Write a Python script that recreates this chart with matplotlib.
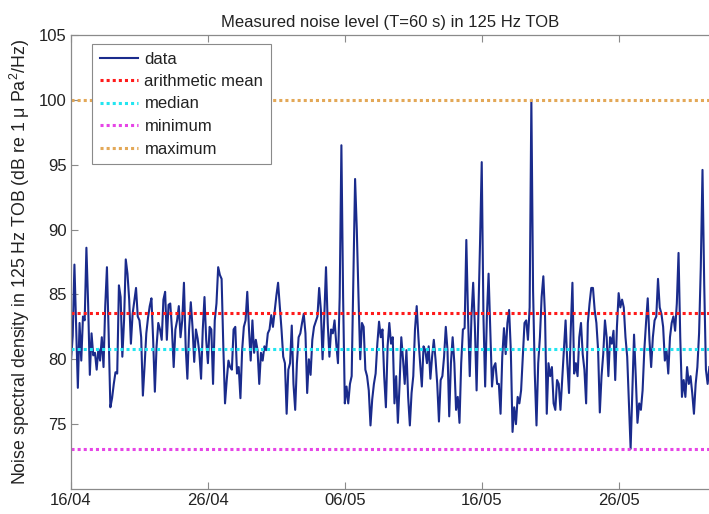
import matplotlib
matplotlib.use("Agg")
import matplotlib.pyplot as plt
import matplotlib.dates as mdates
import pandas as pd

plt.rcParams["font.family"] = ["Liberation Sans", "DejaVu Sans"]
plt.rcParams["mathtext.fontset"] = "custom"
plt.rcParams["mathtext.rm"] = "Liberation Sans"
plt.rcParams["mathtext.it"] = "Liberation Sans:italic"

# 3-hourly noise level in the 125 Hz third-octave band
start = "2013-04-16"
step = "3h"
noise_db = [
    # 16/04 - 23/04
    79.9, 81.8, 87.3, 82.5, 77.8, 82.8, 79.9, 83.3, 83.0, 88.6,
    84.3, 78.8, 82.0, 80.3, 80.5, 79.2, 80.8, 79.9, 81.7, 79.4,
    84.1, 87.1, 82.0, 76.3, 77.0, 78.1, 79.0, 78.9, 85.7, 84.8,
    80.2, 83.0, 87.7, 86.6, 84.6, 81.2, 83.5, 84.5, 85.5, 83.3,
    83.0, 81.7, 77.2, 79.5, 82.0, 83.2, 84.1, 84.7, 81.5, 77.5,
    81.0, 82.8, 82.3, 81.5, 84.6, 85.2, 81.5, 84.2, 84.3, 82.3,
    79.4,
    # 23/04 - 01/05
    82.3, 83.0, 84.1, 81.7, 83.0, 85.9, 81.0, 78.5, 82.3, 84.4,
    82.5, 79.8, 82.3, 81.6, 80.5, 78.5, 82.3, 84.8, 81.5, 79.7,
    82.5, 82.3, 78.1, 83.0, 84.3, 87.1, 86.5, 86.2, 81.0, 76.6,
    78.4, 79.9, 79.4, 79.2, 82.3, 82.5, 78.9, 79.4, 77.0, 80.7,
    82.5, 83.0, 85.2, 82.3, 79.9, 83.0, 80.5, 81.5, 80.7, 78.1,
    80.5, 79.9, 81.0, 80.7, 82.0, 82.3, 83.4, 82.5, 83.7, 84.9,
    85.9, 84.1,
    # 01/05 - 09/05
    82.3, 80.2, 79.7, 75.8, 79.2, 79.7, 82.6, 78.1, 76.1, 79.7,
    81.7, 82.0, 82.8, 83.5, 82.0, 77.4, 80.0, 78.8, 81.5, 82.5,
    82.9, 83.3, 85.5, 83.8, 80.0, 83.3, 87.1, 82.8, 80.2, 82.3,
    82.0, 83.0, 81.2, 79.7, 84.8, 96.5, 84.8, 76.6, 77.9, 76.6,
    78.1, 78.7, 86.1, 93.9, 90.0, 84.8, 80.0, 82.8, 82.5, 79.2,
    78.7, 77.6, 74.9, 76.9, 78.1, 78.9, 81.2, 82.9, 81.7, 82.3,
    78.7, 76.3, 81.0, 82.8, 81.2,
    # 09/05 - 17/05
    81.7, 76.6, 78.7, 75.1, 78.1, 81.7, 80.0, 78.1, 80.7, 77.1,
    74.9, 77.4, 78.7, 82.3, 84.1, 81.7, 79.7, 77.9, 81.0, 80.7,
    79.7, 81.0, 78.5, 80.2, 81.5, 80.0, 78.1, 75.2, 78.4, 78.7,
    80.2, 82.5, 80.7, 75.6, 79.7, 81.7, 79.7, 76.1, 77.1, 75.1,
    79.7, 82.3, 82.4, 89.2, 83.3, 78.7, 83.3, 85.9, 82.5, 77.6,
    83.3, 88.9, 95.2, 83.3, 77.9, 83.3, 86.6, 82.3, 77.9, 79.4,
    79.7, 78.1,
    # 17/05 - 24/05
    78.1, 75.8, 80.2, 82.4, 80.4, 82.8, 83.8, 80.7, 74.4, 76.3,
    75.0, 77.1, 76.6, 77.6, 80.2, 82.8, 83.0, 81.5, 84.0, 100.0,
    85.3, 78.9, 74.9, 79.7, 81.7, 84.8, 86.4, 83.3, 75.8, 79.7,
    78.7, 79.4, 76.6, 76.1, 78.4, 78.1, 76.1, 78.4, 80.7, 83.0,
    79.7, 77.4, 82.2, 85.9, 78.9, 79.7, 78.7, 81.7, 82.8, 80.4,
    79.2, 76.6, 82.8, 84.3, 85.5, 85.5, 83.8, 82.8, 80.7, 75.9,
    # 24/05 - 01/06
    78.7, 80.4, 83.0, 81.7, 78.7, 81.7, 81.2, 82.2, 78.4, 82.5,
    85.1, 84.0, 84.6, 84.0, 81.7, 80.2, 76.6, 73.1, 77.6, 81.9,
    78.7, 75.1, 76.6, 76.1, 77.6, 80.7, 82.8, 84.7, 81.5, 79.4,
    81.7, 83.0, 83.3, 86.2, 84.0, 83.5, 82.5, 79.9, 80.7, 78.9,
    81.7, 82.8, 83.3, 82.2, 84.3, 88.2, 81.7, 77.1, 78.4, 77.1,
    79.4, 78.1, 78.7, 77.4, 75.8, 78.1, 79.4, 82.0, 87.1, 94.6,
    85.8, 79.2, 78.1, 79.4,
]

# summary levels drawn as horizontal lines
mean_db = 83.6
median_db = 80.8
min_db = 73.1
max_db = 100.0

tick_dates = ["2013-04-16", "2013-04-26", "2013-05-06", "2013-05-16", "2013-05-26"]
y_ticks = [75, 80, 85, 90, 95, 100, 105]


def main():
    t = pd.date_range(start, periods=len(noise_db), freq=step)

    fig = plt.figure(figsize=(7.09, 5.14), dpi=100)
    ax = fig.add_axes([71 / 709, 1 - 489 / 514, 638 / 709, 454 / 514])

    ax.plot(t, noise_db, color="#1a2b8c", linewidth=1.5, label="data")
    dots = (0, (1, 1))
    ax.axhline(mean_db, color="#ff1a1a", linestyle=dots, linewidth=2.2, label="arithmetic mean")
    ax.axhline(median_db, color="#22e5f0", linestyle=dots, linewidth=2.2, label="median")
    ax.axhline(min_db, color="#e645e6", linestyle=dots, linewidth=2.2, label="minimum")
    ax.axhline(max_db, color="#e3a857", linestyle=dots, linewidth=2.2, label="maximum")

    ax.set_xlim(t[0], t[0] + pd.Timedelta(days=46.6))
    ax.set_ylim(70, 105)
    ax.set_yticks(y_ticks)
    ax.set_xticks(pd.to_datetime(tick_dates))
    ax.xaxis.set_major_formatter(mdates.DateFormatter("%d/%m"))

    for side in ["left", "top", "bottom"]:
        ax.spines[side].set_color("#8a8a8a")
        ax.spines[side].set_linewidth(0.9)
    ax.spines["right"].set_visible(False)
    ax.tick_params(direction="in", length=5, top=True, right=False,
                   color="#8a8a8a", labelcolor="#222222", labelsize=12, pad=3)

    ax.set_title("Measured noise level (T=60 s) in 125 Hz TOB", fontsize=12, color="#222222", pad=6)
    ax.set_ylabel("Noise spectral density in 125 Hz TOB (dB re 1 \u03bc Pa$^2$/Hz)",
                  fontsize=12.8, color="#222222", labelpad=5)

    leg = ax.legend(loc="upper left", bbox_to_anchor=((92 - 71) / 638, (489 - 44) / 454),
                    borderaxespad=0, fontsize=12, handlelength=2.3, handletextpad=0.4,
                    labelspacing=0.45, borderpad=0.45, fancybox=False,
                    edgecolor="#8a8a8a", framealpha=1)
    leg.get_frame().set_linewidth(0.8)
    for txt in leg.get_texts():
        txt.set_color("#222222")

    fig.savefig("out.png", dpi=100)


if __name__ == "__main__":
    main()
